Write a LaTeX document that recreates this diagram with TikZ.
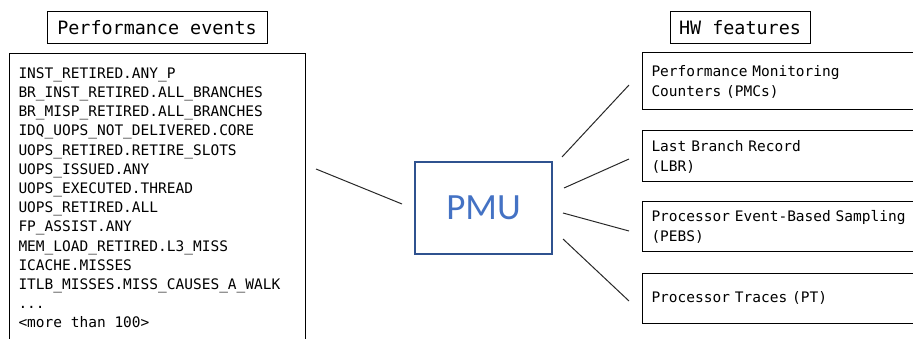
\documentclass[tikz,border=0pt]{standalone}
\usepackage{fontspec}
\setmonofont{DejaVu Sans Mono}
\newfontfamily\pmufont{Carlito}

\definecolor{pmuline}{RGB}{47,82,143}
\definecolor{pmutext}{RGB}{68,114,196}

\tikzset{every picture/.style={line width=1pt}}
\tikzset{
	titlebox/.style={draw, line width=1pt, inner sep=0pt, font=\ttfamily\fontsize{18.4}{22}\selectfont},
	listbox/.style={draw, line width=1pt, anchor=north west, inner sep=0pt},
	listline/.style={anchor=base west, inner sep=0pt, font=\ttfamily\fontsize{14.5}{19.2}\selectfont},
	hwbox/.style={draw, line width=1pt, anchor=west, align=left, inner xsep=9pt, inner ysep=0pt,
		text width=272pt, font=\ttfamily\fontsize{14.5}{20}\selectfont},
	pmubox/.style={draw=pmuline, line width=2.8pt, text=pmutext, minimum width=137pt, minimum height=92pt,
		font=\pmufont\fontsize{37}{40}\selectfont},
	link/.style={line width=1pt, draw={rgb,255:red,40;green,40;blue,40}}}

\begin{document}
\begin{tikzpicture}[x=1pt,y=1pt,yscale=-1,xscale=1]
	\useasboundingbox (0,0) rectangle (913,339);
	\clip (0,0) rectangle (913,339);

	% Titles
	\node[titlebox, minimum width=220pt, minimum height=32pt] (evtitle) at (157,28) {Performance events};
	\node[titlebox, minimum width=140pt, minimum height=32pt] (hwtitle) at (740,28) {HW features};

	%Shape: Rectangle, list of events
	\node[listbox, minimum width=296pt, minimum height=300pt] (events) at (9,53) {};
	\foreach \txt [count=\i from 0] in {INST\_RETIRED.ANY\_P, BR\_INST\_RETIRED.ALL\_BRANCHES,
		BR\_MISP\_RETIRED.ALL\_BRANCHES, IDQ\_UOPS\_NOT\_DELIVERED.CORE, UOPS\_RETIRED.RETIRE\_SLOTS,
		UOPS\_ISSUED.ANY, UOPS\_EXECUTED.THREAD, UOPS\_RETIRED.ALL, FP\_ASSIST.ANY,
		MEM\_LOAD\_RETIRED.L3\_MISS, ICACHE.MISSES, ITLB\_MISSES.MISS\_CAUSES\_A\_WALK,
		{.{}.{}.}, {<more than 100>}}
		\node[listline] (ev\i) at (18,78.3+19.2*\i) {\txt};

	%Shape: Rectangle, PMU
	\node[pmubox] (pmu) at (483.5,208) {PMU};

	%Shape: Rectangle, HW features
	\node[hwbox, minimum height=57pt] (pmc) at (642,81.5) {Performance Monitoring\\Counters (PMCs)};
	\node[hwbox, minimum height=51pt] (lbr) at (642,156.5) {Last Branch Record\\(LBR)};
	\node[hwbox, minimum height=50pt] (pebs) at (642,227) {Processor Event-Based Sampling\\(PEBS)};
	\node[hwbox, minimum height=50pt] (pt) at (642,298) {Processor Traces (PT)};

	% Connector ends
	\coordinate (evend) at (316,169);
	\coordinate (pmuin) at (402,204);
	\coordinate (pmuout1) at (562,157);
	\coordinate (pmuout2) at (564,188);
	\coordinate (pmuout3) at (563,213);
	\coordinate (pmuout4) at (563,239);
	\coordinate (pmcin) at (629,85);
	\coordinate (lbrin) at (629,159);
	\coordinate (pebsin) at (629,231);
	\coordinate (ptin) at (629,301);

	% Connectors
	\draw[link] (evend) -- (pmuin);
	\draw[link] (pmuout1) -- (pmcin);
	\draw[link] (pmuout2) -- (lbrin);
	\draw[link] (pmuout3) -- (pebsin);
	\draw[link] (pmuout4) -- (ptin);

\end{tikzpicture}
\end{document}
